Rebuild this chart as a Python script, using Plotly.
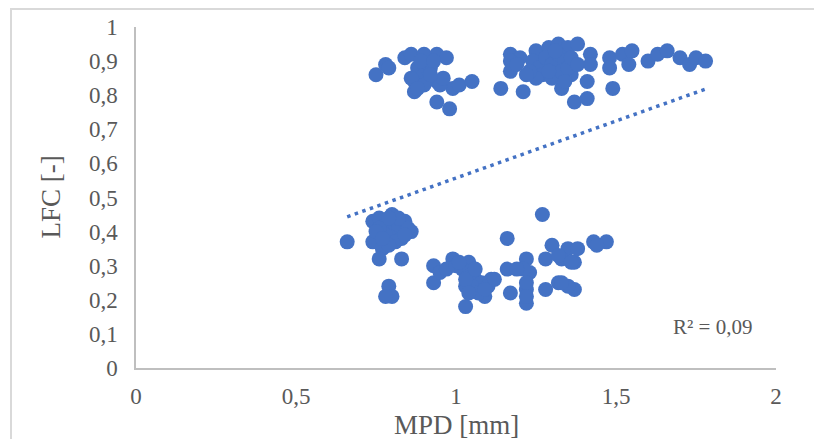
import plotly.graph_objects as go

# MPD [mm] and LFC [-] values
mpd_upper = [0.75, 0.78, 0.79, 0.84, 0.86, 0.90, 0.94, 0.97, 0.87, 0.94, 0.99, 1.01, 0.87, 0.94, 0.98, 1.05,
             0.88, 0.90, 0.92, 0.89, 0.93, 0.91, 0.95, 0.86, 0.90, 0.88, 0.96, 0.92,
             1.14, 1.17, 1.20, 1.17, 1.17, 1.21, 1.25, 1.29, 1.32, 1.35, 1.38, 1.42, 1.42, 1.41, 1.33, 1.37,
             1.41, 1.49, 1.48, 1.48, 1.52, 1.55, 1.54, 1.60, 1.63, 1.66, 1.70, 1.73, 1.75, 1.78,
             1.24, 1.26, 1.28, 1.30, 1.32, 1.34, 1.27, 1.30, 1.33, 1.36, 1.25, 1.31, 1.29, 1.35, 1.23,
             1.36, 1.38, 1.34, 1.22, 1.19]
lfc_upper = [0.86, 0.89, 0.88, 0.91, 0.92, 0.92, 0.92, 0.91, 0.84, 0.84, 0.82, 0.83, 0.81, 0.78, 0.76, 0.84,
             0.88, 0.86, 0.88, 0.90, 0.90, 0.85, 0.83, 0.85, 0.83, 0.82, 0.85, 0.86,
             0.82, 0.92, 0.91, 0.90, 0.87, 0.81, 0.93, 0.94, 0.95, 0.94, 0.95, 0.92, 0.89, 0.84, 0.82, 0.78,
             0.79, 0.82, 0.91, 0.88, 0.92, 0.93, 0.89, 0.90, 0.92, 0.93, 0.91, 0.89, 0.91, 0.90,
             0.90, 0.88, 0.91, 0.89, 0.92, 0.90, 0.86, 0.85, 0.87, 0.86, 0.85, 0.93, 0.87, 0.88, 0.87,
             0.91, 0.89, 0.84, 0.86, 0.89]

mpd_lower = [0.66, 0.74, 0.80, 0.86, 0.74, 0.77, 0.76, 0.83, 0.79, 0.80, 0.78,
             0.76, 0.78, 0.80, 0.82, 0.84, 0.83, 0.78, 0.76, 0.81, 0.79, 0.85, 0.75, 0.77, 0.82, 0.79, 0.84,
             0.93, 0.99, 0.93, 1.03, 1.03, 1.27, 1.16, 1.30, 1.35, 1.38, 1.43, 1.47, 1.22, 1.28, 1.37,
             1.16, 1.23, 1.17, 1.22, 1.22, 1.28, 1.32, 1.37, 1.04, 1.11, 1.09,
             0.95, 0.97, 1.00, 1.02, 1.04, 1.06, 1.08, 1.05, 1.07, 1.03, 1.10, 1.01, 1.06, 1.12, 1.09, 1.04,
             1.21, 1.22, 1.22, 1.19, 1.33, 1.35, 1.32, 1.33, 1.36, 1.44]
lfc_lower = [0.37, 0.43, 0.45, 0.40, 0.37, 0.35, 0.32, 0.32, 0.24, 0.21, 0.21,
             0.44, 0.42, 0.40, 0.42, 0.43, 0.38, 0.39, 0.41, 0.37, 0.36, 0.41, 0.40, 0.38, 0.44, 0.44, 0.39,
             0.30, 0.32, 0.25, 0.24, 0.18, 0.45, 0.38, 0.36, 0.35, 0.35, 0.37, 0.37, 0.32, 0.32, 0.31,
             0.29, 0.28, 0.22, 0.23, 0.19, 0.23, 0.25, 0.23, 0.31, 0.26, 0.21,
             0.28, 0.29, 0.30, 0.29, 0.27, 0.26, 0.25, 0.24, 0.22, 0.26, 0.24, 0.31, 0.29, 0.26, 0.23, 0.22,
             0.29, 0.25, 0.21, 0.29, 0.32, 0.24, 0.33, 0.25, 0.31, 0.36]

# linear trendline
trend_slope = 0.3345
trend_intercept = 0.2226
r2_text = "R² = 0,09"

x_ticks = [0, 0.5, 1, 1.5, 2]
y_ticks = [0, 0.1, 0.2, 0.3, 0.4, 0.5, 0.6, 0.7, 0.8, 0.9, 1]
x_title = "MPD [mm]"
y_title = "LFC [-]"

mpd = mpd_upper + mpd_lower
lfc = lfc_upper + lfc_lower

BLUE = "#4472C4"
GREY = "#595959"
FONT = "Liberation Serif"

fig = go.Figure()
fig.add_trace(go.Scatter(x=mpd, y=lfc, mode="markers",
                         marker=dict(color=BLUE, size=15, line=dict(width=0)),
                         showlegend=False, hoverinfo="x+y"))

x0, x1 = min(mpd), max(mpd)
fig.add_trace(go.Scatter(x=[x0, x1],
                         y=[trend_intercept + trend_slope * x0, trend_intercept + trend_slope * x1],
                         mode="lines", line=dict(color=BLUE, width=3.5, dash="3.5px,4.5px"),
                         showlegend=False, hoverinfo="skip"))

fig.add_annotation(x=1.8, y=0.12, xref="x", yref="y", text=r2_text, showarrow=False,
                   font=dict(family=FONT, size=21, color=GREY))

# axis titles
fig.add_annotation(x=0.5, y=0, xref="paper", yref="paper", yanchor="middle", yshift=-57,
                   text=x_title, showarrow=False, font=dict(family=FONT, size=27, color=GREY))
fig.add_annotation(x=0, y=0.5, xref="paper", yref="paper", xanchor="center", xshift=-86,
                   text=y_title, textangle=-90, showarrow=False,
                   font=dict(family=FONT, size=27, color=GREY))

# outer chart border (right and bottom edges lie outside the picture)
fig.add_shape(type="rect", xref="paper", yref="paper", x0=-0.1953, x1=1.2, y0=-0.5, y1=1.0528,
              line=dict(color="#D9D9D9", width=2), fillcolor="rgba(0,0,0,0)", layer="above")

fig.update_xaxes(range=[0, 2], tickvals=x_ticks, showgrid=False, zeroline=False, automargin=False,
                 showline=True, linecolor="#BFBFBF", linewidth=1.5, ticks="", ticklabelstandoff=7,
                 tickfont=dict(family=FONT, size=23, color=GREY))
fig.update_yaxes(range=[0, 1], tickvals=y_ticks, showgrid=False, zeroline=False, automargin=False,
                 showline=True, linecolor="#BFBFBF", linewidth=1.5, ticks="", ticklabelstandoff=12,
                 tickfont=dict(family=FONT, size=23, color=GREY))

fig.update_layout(width=814, height=439, margin=dict(l=136, r=38, t=27, b=71),
                  paper_bgcolor="white", plot_bgcolor="white", separators=", ")

# remove the page's default body margin so the figure fills the window
fig.write_html("out.html", config={"displayModeBar": False},
               post_script="document.body.style.margin='0';document.body.style.overflow='hidden';")
